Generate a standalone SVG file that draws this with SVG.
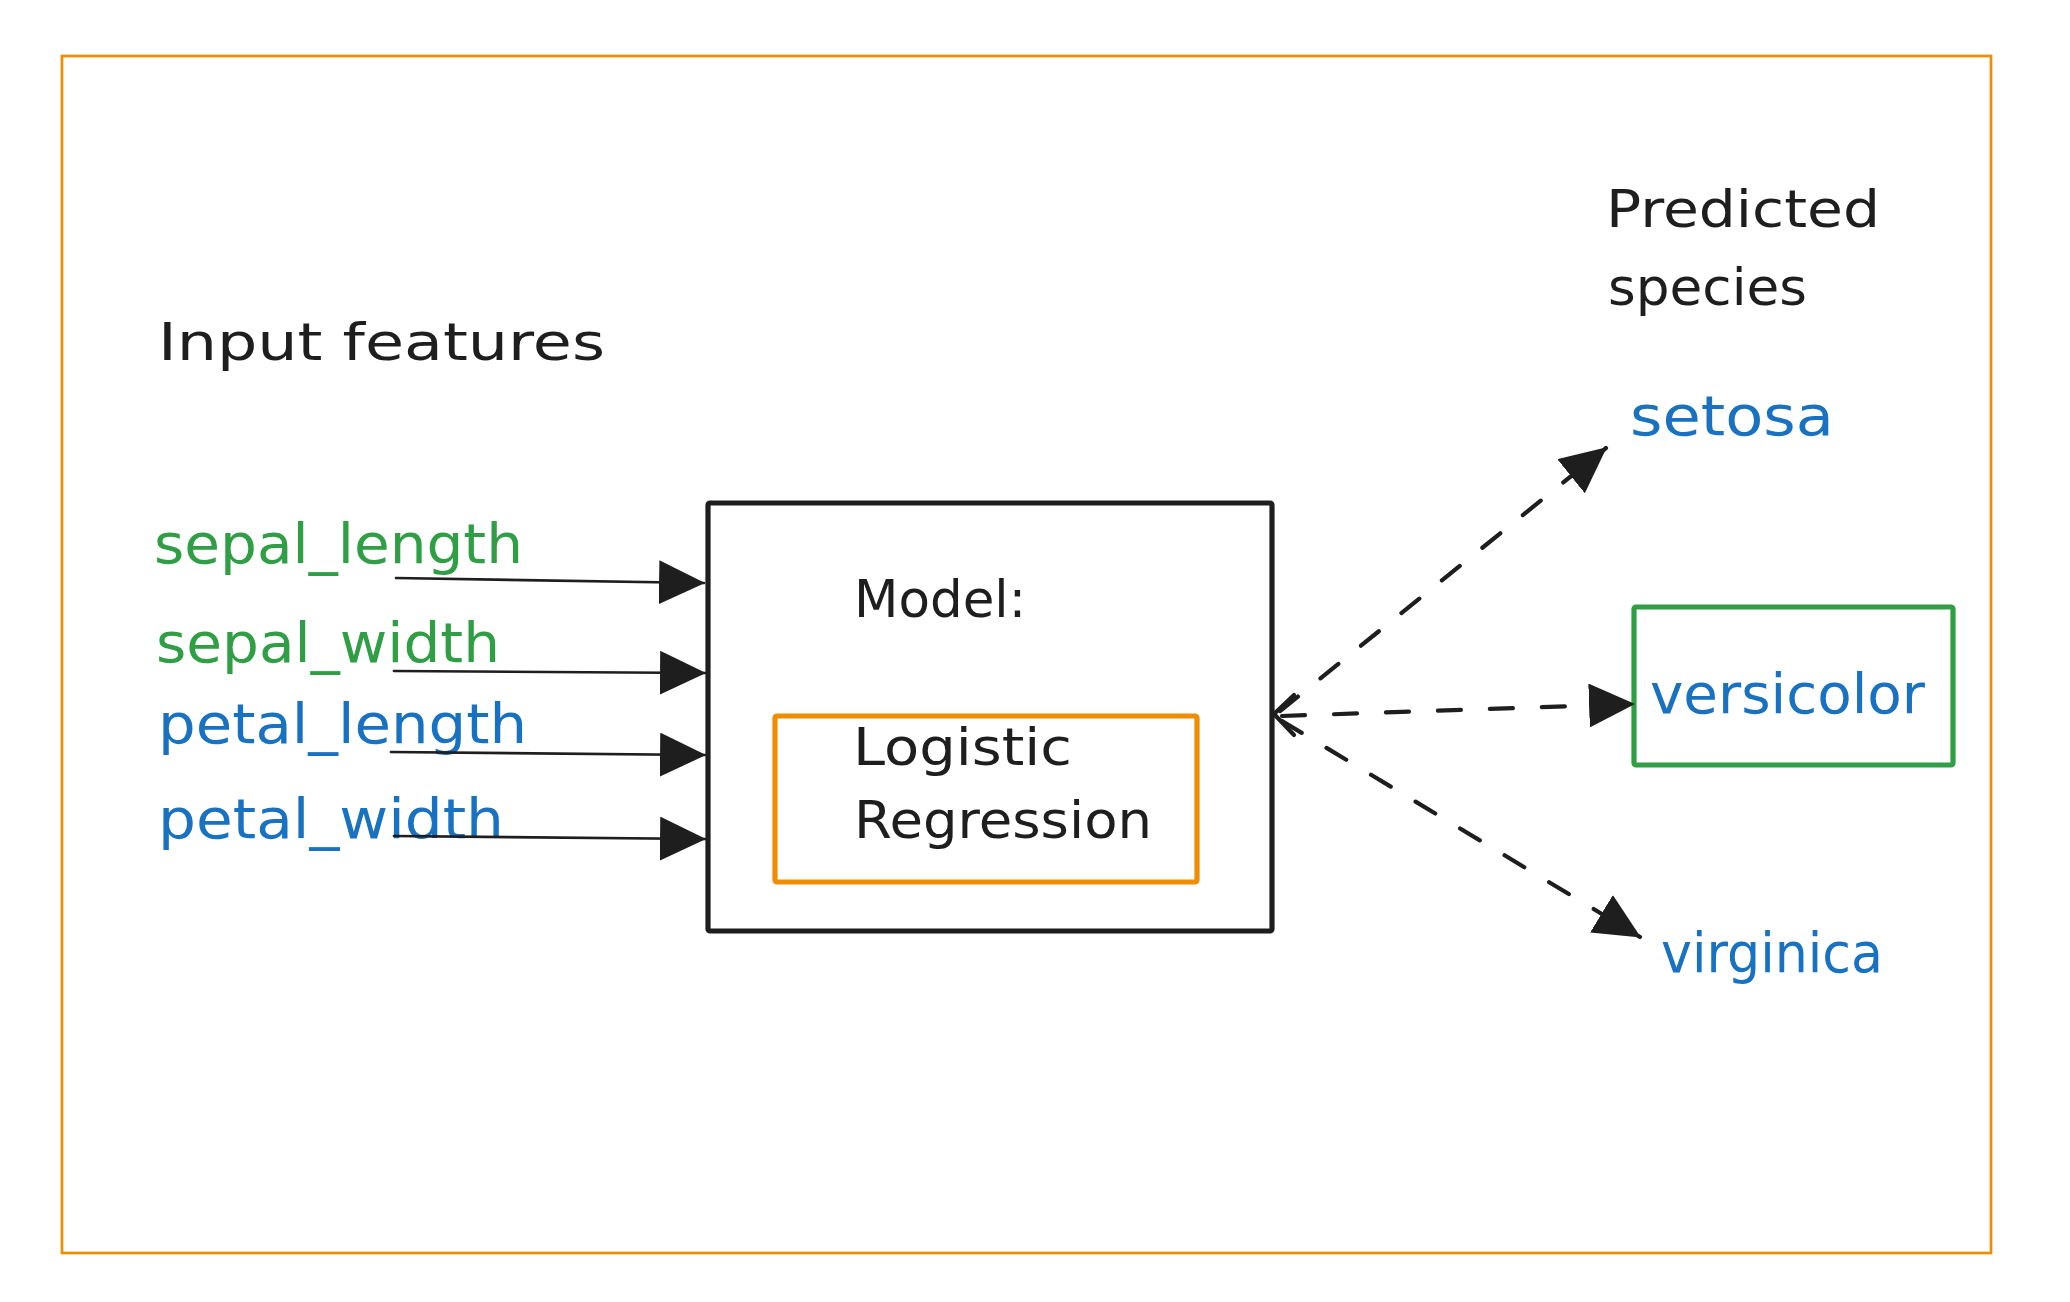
<svg xmlns="http://www.w3.org/2000/svg" width="2070" height="1302" viewBox="0 0 2070 1302">
<style>
text{font-family:"DejaVu Sans","Liberation Sans",sans-serif}
.blk{fill:#1e1e1e;font-size:52px}
.grn{fill:#2f9e44;font-size:56px}
.blu{fill:#1971c2;font-size:56px}
.solid{stroke:#1e1e1e;stroke-width:2.7;fill:none;stroke-linecap:round}
.dash{stroke:#1e1e1e;stroke-width:4.2;fill:none;stroke-linecap:round;stroke-dasharray:23 29}
.box{fill:none;stroke-width:5.2}
</style>
<defs>
<marker id="tri" markerUnits="userSpaceOnUse" markerWidth="46" markerHeight="44" viewBox="0 0 44 42" refX="43" refY="21" orient="auto">
<path d="M0,0 L44,21 L0,42 z" fill="#1e1e1e"/>
</marker>
</defs>
<rect width="2070" height="1302" fill="#ffffff"/>
<g id="frame">
<rect x="62" y="56" width="1929" height="1197" fill="none" stroke="#f08c00" stroke-width="2.7"/>
</g>
<g id="input-features-label">
<text class="blk" x="158" y="360" textLength="447" lengthAdjust="spacingAndGlyphs">Input features</text>
</g>
<g id="sepal_length"><text class="grn" x="154" y="563" textLength="369" lengthAdjust="spacingAndGlyphs">sepal_length</text></g>
<g id="sepal_width"><text class="grn" x="156" y="662" textLength="344" lengthAdjust="spacingAndGlyphs">sepal_width</text></g>
<g id="petal_length"><text class="blu" x="158" y="743" textLength="369" lengthAdjust="spacingAndGlyphs">petal_length</text></g>
<g id="petal_width"><text class="blu" x="158" y="838" textLength="346" lengthAdjust="spacingAndGlyphs">petal_width</text></g>
<g id="model">
<rect class="box" x="708" y="503" width="564" height="428" rx="2" stroke="#1e1e1e"/>
<text class="blk" x="854" y="617" textLength="172" lengthAdjust="spacingAndGlyphs">Model:</text>
</g>
<g id="logistic-regression">
<rect class="box" x="775" y="716" width="422" height="166" rx="2" stroke="#f08c00"/>
<text class="blk" x="853" y="765" textLength="219" lengthAdjust="spacingAndGlyphs">Logistic</text>
<text class="blk" x="854" y="838" textLength="298" lengthAdjust="spacingAndGlyphs">Regression</text>
</g>
<g id="predicted-species-label">
<text class="blk" x="1606" y="227" textLength="274" lengthAdjust="spacingAndGlyphs">Predicted</text>
<text class="blk" x="1608" y="305" textLength="199" lengthAdjust="spacingAndGlyphs">species</text>
</g>
<g id="setosa"><text class="blu" x="1630" y="435" textLength="204" lengthAdjust="spacingAndGlyphs">setosa</text></g>
<g id="versicolor">
<rect class="box" x="1634" y="607" width="319" height="158" rx="2" stroke="#2f9e44"/>
<text class="blu" x="1650" y="713" textLength="275" lengthAdjust="spacingAndGlyphs">versicolor</text>
</g>
<g id="virginica"><text class="blu" x="1661" y="972" textLength="222" lengthAdjust="spacingAndGlyphs">virginica</text></g>
<g id="connectors">
<path class="solid" d="M396,578 L704,583" marker-end="url(#tri)"/>
<path class="solid" d="M394,671 L705,673" marker-end="url(#tri)"/>
<path class="solid" d="M391,752 L705,755" marker-end="url(#tri)"/>
<path class="solid" d="M394,836 L705,839" marker-end="url(#tri)"/>
<path class="dash" d="M1280,711 L1606,448" marker-end="url(#tri)"/>
<path class="dash" d="M1282,716 L1634,704" marker-end="url(#tri)"/>
<path class="dash" d="M1282,721 L1640,937" marker-end="url(#tri)"/>
<path d="M1294,695 L1274,714 L1294,735" fill="none" stroke="#1e1e1e" stroke-width="4.2" stroke-linecap="round" stroke-linejoin="round"/>
</g>
</svg>
